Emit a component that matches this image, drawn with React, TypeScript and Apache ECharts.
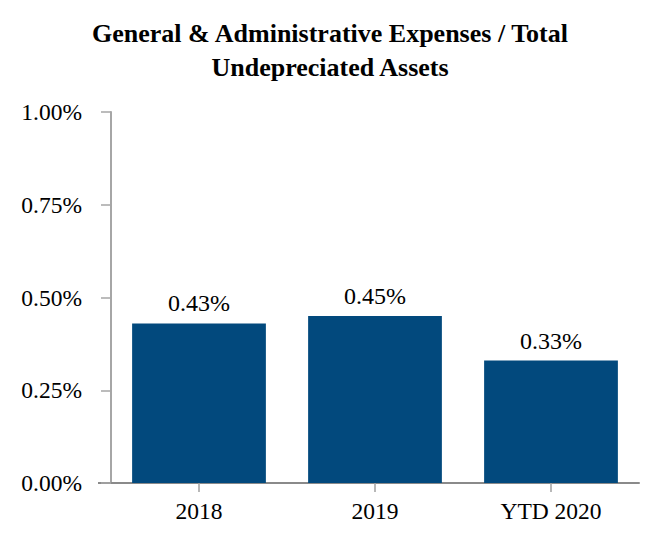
import React, { useEffect, useRef } from "react";
import * as echarts from "echarts";

const categories = ["2018", "2019", "YTD 2020"];
const values = [0.43, 0.45, 0.33];
const yTicks = [0, 0.25, 0.5, 0.75, 1.0];

const FONT = "'Liberation Serif', 'Times New Roman', serif";

export default function App() {
  const ref = useRef<HTMLDivElement>(null);
  useEffect(() => {
    const chart = echarts.init(ref.current!, null, { renderer: "svg" });
    chart.setOption({
      animation: false,
      backgroundColor: "#ffffff",
      title: {
        text: "General & Administrative Expenses / Total\nUndepreciated Assets",
        left: "center",
        top: 11,
        textStyle: {
          fontFamily: FONT,
          fontWeight: "bold",
          fontSize: 26,
          lineHeight: 34,
          color: "#000",
        },
      },
      grid: { left: 111, right: 21, top: 112, bottom: 63 },
      xAxis: {
        type: "category",
        data: categories,
        axisLine: { lineStyle: { color: "#8a8a8a", width: 2 } },
        axisTick: { show: true, alignWithLabel: true, length: 9, lineStyle: { color: "#a0a0a0", width: 1.5 } },
        axisLabel: { fontFamily: FONT, fontSize: 23.5, color: "#000", margin: 16 },
      },
      yAxis: {
        type: "value",
        min: yTicks[0],
        max: yTicks[yTicks.length - 1],
        interval: 0.25,
        splitLine: { show: false },
        axisLine: { show: true, lineStyle: { color: "#a6a6a6", width: 2 } },
        axisTick: { show: true, length: 10, lineStyle: { color: "#a6a6a6", width: 1.5 } },
        axisLabel: {
          fontFamily: FONT,
          fontSize: 23.5,
          color: "#000",
          margin: 29,
          formatter: (v: number) => v.toFixed(2) + "%",
        },
      },
      series: [
        {
          type: "bar",
          data: values,
          barWidth: "76%",
          itemStyle: { color: "#02497d" },
          label: {
            show: true,
            position: "top",
            distance: 8,
            fontFamily: FONT,
            fontSize: 24,
            color: "#000",
            formatter: (p: any) => p.value.toFixed(2) + "%",
          },
        },
      ],
      graphic: [
        {
          type: "line",
          shape: { x1: 98, y1: 483, x2: 112, y2: 483 },
          style: { stroke: "#8a8a8a", lineWidth: 2 },
        },
      ],
    });
    return () => chart.dispose();
  }, []);
  return (
    <div
      ref={ref}
      style={{ position: "absolute", left: 0, top: 0, width: 660, height: 546 }}
    />
  );
}
